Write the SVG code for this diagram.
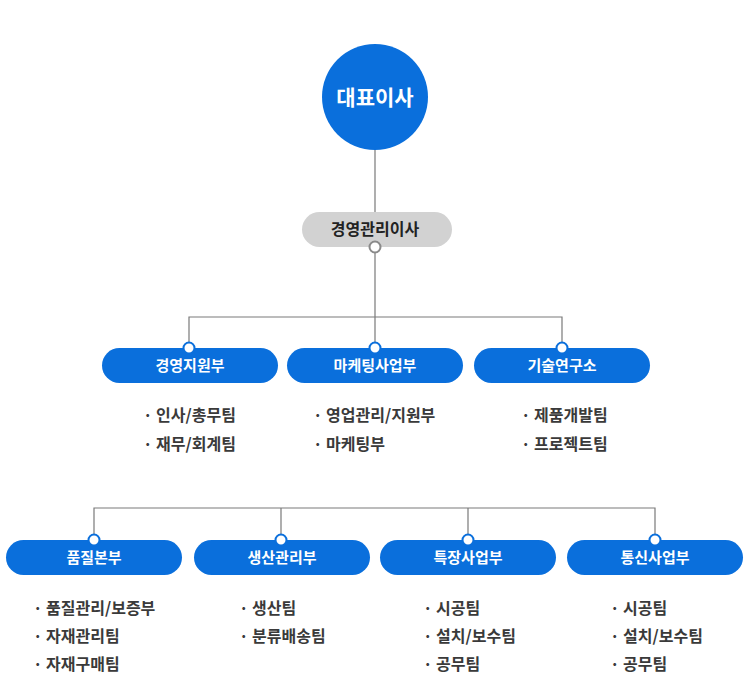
<svg xmlns="http://www.w3.org/2000/svg" width="750" height="700" viewBox="0 0 750 700">
<style>
.ln{fill:none;stroke:#7a7a7a;stroke-width:1.2}
.pill{fill:#0a6fdc}
.jb{fill:#fff;stroke:#0a6fdc;stroke-width:2}
.jg{fill:#fff;stroke:#8a8a8a;stroke-width:2}
.t{font-family:"Noto Sans CJK KR","Noto Sans",sans-serif;font-weight:700;text-anchor:middle}
.w{fill:#fff;font-size:15px}
.li{font-family:"Noto Sans CJK KR","Noto Sans",sans-serif;font-weight:600;font-size:16px;fill:#3a3a3a}
</style>
<rect width="750" height="700" fill="#fff"/>
<g id="connectors">
<path class="ln" d="M375 150V212M375 247V317M189 348V317H562V348M375 317V348"/>
<path class="ln" d="M94 540V508H655V540M281 508V540M468 508V540"/>
</g>
<g id="ceo">
<circle cx="375" cy="97" r="53" fill="#0a6fdc"/>
<text class="t" x="375" y="105" font-size="21" fill="#fff">대표이사</text>
</g>
<g id="director">
<rect x="302" y="212" width="150" height="35" rx="17.5" fill="#d2d2d2"/>
<text class="t" x="375" y="235" font-size="16" fill="#222">경영관리이사</text>
<circle class="jg" cx="375" cy="247" r="5.5"/>
</g>
<g id="n1">
<rect class="pill" x="102" y="348" width="176" height="35" rx="17.5"/>
<circle class="jb" cx="189" cy="348" r="5.5"/>
<text class="t w" x="190" y="371">경영지원부</text>
<text class="li" x="143" y="421">· 인사/총무팀</text>
<text class="li" x="143" y="450">· 재무/회계팀</text>
</g>
<g id="n2">
<rect class="pill" x="287" y="348" width="176" height="35" rx="17.5"/>
<circle class="jb" cx="375" cy="348" r="5.5"/>
<text class="t w" x="375" y="371">마케팅사업부</text>
<text class="li" x="313" y="421">· 영업관리/지원부</text>
<text class="li" x="313" y="450">· 마케팅부</text>
</g>
<g id="n3">
<rect class="pill" x="474" y="348" width="176" height="35" rx="17.5"/>
<circle class="jb" cx="562" cy="348" r="5.5"/>
<text class="t w" x="562" y="371">기술연구소</text>
<text class="li" x="521" y="421">· 제품개발팀</text>
<text class="li" x="521" y="450">· 프로젝트팀</text>
</g>
<g id="n4">
<rect class="pill" x="6" y="540" width="176" height="35" rx="17.5"/>
<circle class="jb" cx="94" cy="540" r="5.5"/>
<text class="t w" x="94" y="563">품질본부</text>
<text class="li" x="33" y="614">· 품질관리/보증부</text>
<text class="li" x="33" y="642">· 자재관리팀</text>
<text class="li" x="33" y="670">· 자재구매팀</text>
</g>
<g id="n5">
<rect class="pill" x="194" y="540" width="176" height="35" rx="17.5"/>
<circle class="jb" cx="281" cy="540" r="5.5"/>
<text class="t w" x="282" y="563">생산관리부</text>
<text class="li" x="239" y="614">· 생산팀</text>
<text class="li" x="239" y="642">· 분류배송팀</text>
</g>
<g id="n6">
<rect class="pill" x="380" y="540" width="176" height="35" rx="17.5"/>
<circle class="jb" cx="468" cy="540" r="5.5"/>
<text class="t w" x="468" y="563">특장사업부</text>
<text class="li" x="423" y="614">· 시공팀</text>
<text class="li" x="423" y="642">· 설치/보수팀</text>
<text class="li" x="423" y="670">· 공무팀</text>
</g>
<g id="n7">
<rect class="pill" x="567" y="540" width="176" height="35" rx="17.5"/>
<circle class="jb" cx="655" cy="540" r="5.5"/>
<text class="t w" x="655" y="563">통신사업부</text>
<text class="li" x="610" y="614">· 시공팀</text>
<text class="li" x="610" y="642">· 설치/보수팀</text>
<text class="li" x="610" y="670">· 공무팀</text>
</g>
</svg>
